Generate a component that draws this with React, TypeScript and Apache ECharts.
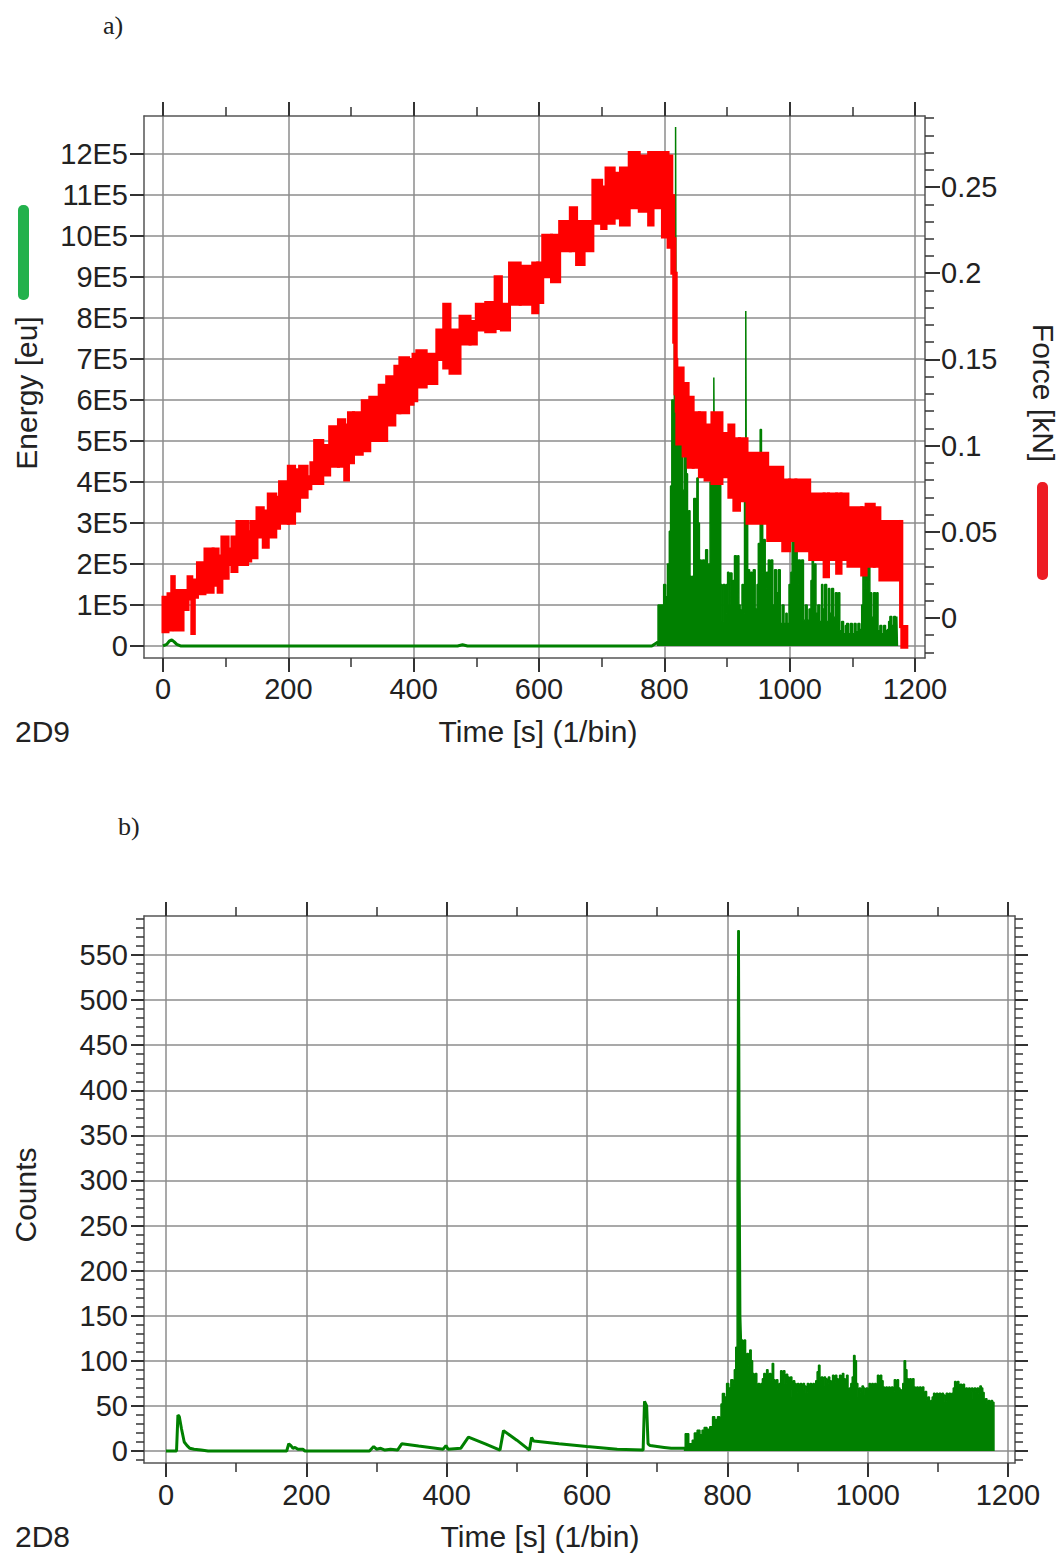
import React, { useEffect, useRef } from 'react';
import * as echarts from 'echarts';

const FONT = '"Liberation Sans", Arial, Helvetica, sans-serif';
const SERIF = '"Liberation Serif", "Times New Roman", serif';

// ---- tick values ----
const timeMajor = [0, 200, 400, 600, 800, 1000, 1200];
const timeMinor = [100, 300, 500, 700, 900, 1100];
const energyTicks = [0, 1, 2, 3, 4, 5, 6, 7, 8, 9, 10, 11, 12]; // in units of 1E5 eu
const forceMajor = [0, 0.05, 0.1, 0.15, 0.2, 0.25];
const forceMinor = [-0.02, -0.01, 0.01, 0.02, 0.03, 0.04, 0.06, 0.07, 0.08, 0.09, 0.11, 0.12, 0.13, 0.14, 0.16, 0.17, 0.18, 0.19, 0.21, 0.22, 0.23, 0.24, 0.26, 0.27, 0.28, 0.29];
const countMajor = [0, 50, 100, 150, 200, 250, 300, 350, 400, 450, 500, 550];
const countMinor = [-10, 10, 20, 30, 40, 60, 70, 80, 90, 110, 120, 130, 140, 160, 170, 180, 190, 210, 220, 230, 240, 260, 270, 280, 290, 310, 320, 330, 340, 360, 370, 380, 390, 410, 420, 430, 440, 460, 470, 480, 490, 510, 520, 530, 540, 560, 570, 580, 590];

// ---- data: chart a) ----
// energy (units of 1E5 eu) – quiet part
const energyQuiet = [[0, 0], [6, 0.04], [10, 0.12], [14, 0.15], [18, 0.1], [22, 0.04], [28, 0], [470, 0], [478, 0.03], [486, 0], [780, 0], [790, 0.1]];
// energy (units of 1E5 eu) – burst part
const energyBurst = [[788, 0.1], [790, 1.0], [797, 1.0], [799, 1.5], [802, 1.2], [805, 2.0], [808, 2.8], [810, 3.9], [812, 6.0], [814, 5.0], [816, 9.0], [818, 12.66], [819, 5.0], [821, 4.96], [824, 4.2], [826, 4.9], [829, 3.8], [832, 4.96], [835, 4.2], [837, 2.6], [839, 3.3], [841, 1.7], [843, 1.1], [845, 1.7], [847, 3.6], [850, 2.5], [852, 4.1], [854, 3.0], [856, 2.1], [859, 1.4], [861, 2.1], [864, 1.5], [866, 2.35], [869, 1.2], [871, 2.0], [873, 4.0], [875, 3.0], [877, 5.5], [879, 6.55], [880, 4.0], [882, 3.0], [884, 4.0], [886, 2.5], [888, 4.0], [890, 1.5], [892, 0.6], [894, 1.5], [897, 0.8], [899, 1.5], [901, 1.8], [903, 1.0], [905, 1.78], [908, 0.9], [910, 1.6], [912, 2.2], [915, 1.3], [917, 2.2], [919, 1.0], [921, 0.88], [924, 1.5], [926, 0.8], [928, 4.0], [930, 8.17], [931, 3.0], [933, 1.86], [936, 1.0], [938, 1.8], [940, 1.2], [942, 1.86], [945, 0.9], [948, 1.5], [950, 2.5], [953, 5.28], [955, 3.0], [957, 1.8], [959, 2.6], [961, 1.4], [963, 1.8], [966, 2.1], [968, 0.9], [970, 2.1], [973, 1.0], [976, 1.86], [979, 1.3], [982, 1.86], [985, 0.55], [988, 1.0], [991, 0.55], [994, 0.8], [996, 0.55], [999, 1.5], [1002, 1.8], [1004, 2.6], [1007, 2.0], [1009, 2.6], [1012, 1.5], [1014, 2.1], [1017, 1.3], [1019, 2.1], [1022, 0.63], [1025, 1.0], [1028, 0.63], [1031, 0.9], [1034, 1.6], [1036, 2.25], [1038, 1.4], [1040, 2.0], [1042, 0.8], [1045, 1.0], [1048, 0.6], [1051, 1.5], [1053, 0.9], [1056, 1.5], [1059, 0.6], [1062, 1.4], [1064, 0.8], [1067, 1.4], [1070, 0.7], [1073, 1.3], [1076, 0.6], [1078, 1.3], [1080, 0.37], [1083, 0.6], [1086, 0.3], [1089, 0.5], [1091, 0.55], [1094, 0.3], [1097, 0.55], [1100, 0.3], [1103, 0.55], [1106, 0.35], [1109, 0.55], [1112, 0.4], [1115, 1.0], [1117, 2.0], [1120, 1.4], [1122, 2.4], [1124, 1.6], [1126, 2.0], [1128, 1.3], [1131, 0.7], [1134, 1.3], [1137, 0.8], [1139, 1.3], [1141, 0.37], [1144, 0.5], [1147, 0.3], [1150, 0.5], [1153, 0.37], [1156, 0.4], [1158, 0.6], [1160, 0.72], [1163, 0.5], [1166, 0.72], [1169, 0.6], [1171, 0.72], [1172, 0]];

// force band [bin start time (s), low (kN), high (kN)]; the last bin ends at forceEnd
const forceBand = [
  [0, -0.008, 0.012], [8, -0.007, 0.014], [14, -0.006, 0.024], [18, -0.007, 0.016], [32, 0.005, 0.016],
  [40, 0.011, 0.024], [46, -0.009, 0.016], [50, 0.012, 0.022], [55, 0.014, 0.032], [67, 0.015, 0.04],
  [80, 0.019, 0.04], [88, 0.015, 0.036], [94, 0.023, 0.047], [104, 0.031, 0.04], [110, 0.027, 0.047],
  [118, 0.031, 0.056], [135, 0.033, 0.05], [140, 0.035, 0.056], [150, 0.047, 0.064], [160, 0.041, 0.062],
  [168, 0.047, 0.072], [180, 0.052, 0.07], [186, 0.055, 0.079], [200, 0.055, 0.088], [210, 0.062, 0.086],
  [218, 0.07, 0.088], [230, 0.075, 0.082], [236, 0.078, 0.09], [242, 0.078, 0.103], [255, 0.083, 0.1],
  [266, 0.088, 0.111], [280, 0.088, 0.115], [290, 0.08, 0.112], [296, 0.09, 0.119], [304, 0.095, 0.119],
  [318, 0.097, 0.126], [330, 0.103, 0.128], [345, 0.103, 0.135], [357, 0.112, 0.14], [370, 0.119, 0.146],
  [378, 0.119, 0.151], [392, 0.124, 0.15], [399, 0.126, 0.153], [405, 0.134, 0.155], [420, 0.136, 0.153],
  [437, 0.15, 0.167], [448, 0.145, 0.182], [458, 0.142, 0.167], [474, 0.159, 0.175], [490, 0.159, 0.172],
  [500, 0.167, 0.182], [515, 0.166, 0.183], [530, 0.168, 0.198], [540, 0.167, 0.182], [553, 0.182, 0.206],
  [570, 0.182, 0.204], [590, 0.177, 0.206], [598, 0.183, 0.206], [606, 0.198, 0.222], [620, 0.195, 0.222],
  [633, 0.213, 0.23], [650, 0.213, 0.238], [660, 0.205, 0.23], [672, 0.213, 0.23], [686, 0.229, 0.254],
  [700, 0.226, 0.25], [707, 0.229, 0.261], [720, 0.232, 0.258], [730, 0.228, 0.261], [744, 0.238, 0.27],
  [760, 0.236, 0.268], [775, 0.228, 0.27], [782, 0.238, 0.27], [797, 0.221, 0.27], [806, 0.215, 0.268],
  [812, 0.2, 0.245], [815, 0.16, 0.22], [817, 0.13, 0.2], [819, 0.12, 0.15], [820, 0.101, 0.145],
  [830, 0.094, 0.136], [838, 0.0875, 0.128], [846, 0.0875, 0.119], [856, 0.082, 0.119], [865, 0.08, 0.112],
  [876, 0.078, 0.119], [892, 0.082, 0.107], [903, 0.07, 0.112], [911, 0.0625, 0.104], [920, 0.068, 0.104],
  [932, 0.055, 0.0955], [965, 0.045, 0.0875], [989, 0.039, 0.08], [1000, 0.045, 0.08], [1010, 0.039, 0.08],
  [1032, 0.034, 0.072], [1055, 0.024, 0.072], [1062, 0.034, 0.072], [1075, 0.026, 0.072], [1082, 0.034, 0.072],
  [1093, 0.03, 0.064], [1115, 0.025, 0.064], [1122, 0.03, 0.066], [1135, 0.03, 0.064], [1144, 0.022, 0.056],
  [1177, -0.005, 0.056], [1179, -0.017, -0.005],
];
const forceEnd = 1187;

// ---- data: chart b) counts ----
const countsQuiet = [[0, 0], [15, 0], [17, 40], [19, 38], [22, 25], [26, 10], [30, 6], [34, 3], [40, 2], [50, 1], [60, 0], [172, 0], [175, 8], [178, 6], [181, 3], [184, 4], [188, 2], [195, 2], [198, 0], [290, 0], [296, 5], [300, 2], [306, 3], [312, 1], [320, 2], [330, 1], [336, 8], [360, 5.5], [395, 2], [399, 6], [402, 2], [420, 3], [431, 15.5], [455, 8], [476, 1], [481, 22.6], [500, 12], [518, 1], [521, 15], [524, 11], [560, 8], [600, 5], [643, 2], [680, 1], [682, 55], [685, 50], [687, 8], [690, 6], [700, 5], [710, 4], [720, 3], [740, 3]];
const countsBurst = [[738, 3], [740, 19], [743, 19], [745, 8], [748, 8], [750, 12], [753, 20], [757, 23], [761, 18], [764, 23], [767, 26], [771, 24], [775, 27], [779, 38], [782, 35], [786, 38], [789, 30], [791, 52], [793, 63.8], [796, 60], [799, 75], [802, 70], [805, 79], [808, 75], [810, 90], [812, 115], [814, 300], [815, 577], [817, 560], [818, 300], [819, 150], [820, 123], [822, 110], [824, 123], [826, 100], [828, 108], [830, 95], [832, 112], [834, 100], [836, 86], [838, 78], [840, 86], [842, 70], [844, 75], [846, 68], [848, 75], [850, 80], [852, 86], [854, 78], [856, 90], [858, 80], [860, 86], [862, 78], [864, 97], [866, 79], [868, 70], [870, 79], [872, 68], [874, 75], [876, 89], [878, 82], [880, 89], [882, 75], [884, 85], [886, 82], [888, 68], [890, 82], [892, 60], [894, 78], [896, 75], [898, 65], [900, 75], [902, 72], [904, 75], [906, 68], [908, 75], [910, 72], [912, 65], [914, 75], [916, 70], [918, 75], [920, 68], [922, 75], [924, 70], [926, 78], [928, 88], [930, 95], [932, 78], [934, 82], [936, 72], [938, 82], [940, 80], [942, 75], [944, 82], [946, 78], [948, 70], [950, 84], [952, 76], [954, 84], [956, 80], [958, 72], [960, 84], [962, 78], [964, 86], [966, 80], [968, 75], [970, 84], [972, 56], [974, 70], [976, 75], [978, 82], [980, 106], [982, 100], [984, 75], [986, 60], [988, 70], [990, 65], [992, 72], [994, 70], [996, 62], [998, 70], [1000, 68], [1002, 75], [1004, 72], [1006, 75], [1008, 70], [1010, 75], [1012, 68], [1014, 84], [1016, 80], [1018, 84], [1020, 78], [1022, 71], [1024, 65], [1026, 71], [1028, 68], [1030, 71], [1032, 62], [1034, 71], [1036, 66], [1038, 79], [1040, 72], [1042, 79], [1044, 70], [1046, 68], [1048, 62], [1050, 75], [1052, 100], [1054, 90], [1056, 80], [1058, 72], [1060, 80], [1062, 75], [1064, 80], [1066, 71], [1068, 65], [1070, 71], [1072, 60], [1074, 71], [1076, 66], [1078, 71], [1080, 62], [1082, 66], [1084, 56], [1086, 60], [1088, 52], [1090, 56], [1092, 60], [1094, 64], [1096, 58], [1098, 64], [1100, 60], [1102, 64], [1104, 58], [1106, 64], [1108, 62], [1110, 55], [1112, 64], [1114, 60], [1116, 64], [1118, 58], [1120, 64], [1122, 70], [1124, 77], [1126, 74], [1128, 77], [1130, 72], [1132, 74], [1134, 70], [1136, 74], [1138, 68], [1140, 70], [1142, 65], [1144, 70], [1146, 66], [1148, 70], [1150, 58], [1152, 70], [1154, 66], [1156, 70], [1158, 64], [1160, 72], [1162, 70], [1164, 65], [1166, 56], [1168, 58], [1170, 52], [1172, 56], [1174, 50], [1176, 56], [1178, 54], [1180, 0]];

// ---- styling ----
const AXIS_C = '#555';
const TICK_C = '#333';
const GRID_C = '#8c8c8c';
const TEXT_C = '#222';
const GREEN = '#008000';
const RED = '#ff0000';
const LABEL_SIZE = 29;

function tickAxis(kind: 'x' | 'y', gridIndex: number, position: string, min: number, max: number, ticks: number[], len: number, opts: any = {}) {
  return {
    type: 'value',
    gridIndex,
    position,
    min,
    max,
    axisLine: { show: opts.line !== false, onZero: false, lineStyle: { color: AXIS_C, width: 1.5 } },
    axisTick: { show: true, customValues: ticks, length: len, lineStyle: { color: TICK_C, width: opts.tickWidth || 1.5 } },
    axisLabel: opts.labels
      ? {
          show: true, customValues: ticks, margin: opts.margin, fontSize: LABEL_SIZE, color: TEXT_C, fontFamily: FONT,
          formatter: opts.formatter || ((v: number) => String(v)),
        }
      : { show: false },
    splitLine: opts.split ? { show: true, lineStyle: { color: GRID_C, width: 1.5 } } : { show: false },
  };
}

function textEl(text: string, x: number, y: number, font: string, rotation = 0, align = 'center') {
  return {
    type: 'text',
    x,
    y,
    rotation,
    style: { text, font, fill: TEXT_C, textAlign: align, textVerticalAlign: 'middle', align, verticalAlign: 'middle' },
    z: 10,
  };
}

export default function App() {
  const ref = useRef<HTMLDivElement>(null);
  useEffect(() => {
    document.body.style.margin = '0';
    const chart = echarts.init(ref.current as HTMLDivElement, null, { renderer: 'svg' });

    const aX = [-30.3, 1216];
    const aE = [-0.293, 12.927];
    const aF = [-0.0232, 0.2912];
    const bX = [-31.35, 1210];
    const bC = [-13.3, 593.3];

    const forceData = forceBand.map((r, i) => [r[0], i + 1 < forceBand.length ? forceBand[i + 1][0] : forceEnd, r[1], r[2]]);

    const option: any = {
      animation: false,
      backgroundColor: '#ffffff',
      grid: [
        { left: 144, top: 116, width: 781, height: 542 },
        { left: 144, top: 916, width: 871, height: 547 },
      ],
      xAxis: [
        tickAxis('x', 0, 'bottom', aX[0], aX[1], timeMajor, 14, { labels: true, margin: 16, split: true, tickWidth: 2 }),
        tickAxis('x', 0, 'bottom', aX[0], aX[1], timeMinor, 9, { line: false }),
        tickAxis('x', 0, 'top', aX[0], aX[1], timeMajor, 14, { tickWidth: 2 }),
        tickAxis('x', 0, 'top', aX[0], aX[1], timeMinor, 9, { line: false }),
        tickAxis('x', 1, 'bottom', bX[0], bX[1], timeMajor, 14, { labels: true, margin: 17, split: true, tickWidth: 2 }),
        tickAxis('x', 1, 'bottom', bX[0], bX[1], timeMinor, 9, { line: false }),
        tickAxis('x', 1, 'top', bX[0], bX[1], timeMajor, 14, { tickWidth: 2 }),
        tickAxis('x', 1, 'top', bX[0], bX[1], timeMinor, 9, { line: false }),
      ],
      yAxis: [
        tickAxis('y', 0, 'left', aE[0], aE[1], energyTicks, 14, {
          labels: true, margin: 16, split: true, tickWidth: 2,
          formatter: (v: number) => (v === 0 ? '0' : Math.round(v) + 'E5'),
        }),
        tickAxis('y', 0, 'right', aF[0], aF[1], forceMajor, 15, {
          labels: true, margin: 16, tickWidth: 2,
          formatter: (v: number) => String(parseFloat(v.toFixed(3))),
        }),
        tickAxis('y', 0, 'right', aF[0], aF[1], forceMinor, 9, { line: false }),
        tickAxis('y', 1, 'left', bC[0], bC[1], countMajor, 13, { labels: true, margin: 16, split: true, tickWidth: 2 }),
        tickAxis('y', 1, 'left', bC[0], bC[1], countMinor, 8, { line: false }),
        tickAxis('y', 1, 'right', bC[0], bC[1], countMajor, 13, { tickWidth: 2 }),
        tickAxis('y', 1, 'right', bC[0], bC[1], countMinor, 8, { line: false }),
      ],
      series: [
        {
          type: 'line', name: 'Energy', xAxisIndex: 0, yAxisIndex: 0, data: energyQuiet,
          symbol: 'none', lineStyle: { color: GREEN, width: 3 }, z: 2,
        },
        {
          type: 'line', name: 'Energy burst', xAxisIndex: 0, yAxisIndex: 0, data: energyBurst, step: 'end',
          symbol: 'none', lineStyle: { color: GREEN, width: 1.5 }, areaStyle: { color: GREEN, opacity: 1 }, z: 2,
        },
        {
          type: 'custom', name: 'Force', xAxisIndex: 0, yAxisIndex: 1, data: forceData,
          encode: { x: [0, 1], y: [2, 3] }, z: 3,
          renderItem: (params: any, api: any) => {
            const p0 = api.coord([api.value(0), api.value(3)]);
            const p1 = api.coord([api.value(1), api.value(2)]);
            return {
              type: 'rect',
              shape: { x: p0[0], y: p0[1], width: p1[0] - p0[0], height: p1[1] - p0[1] },
              style: { fill: RED, stroke: RED, lineWidth: 3 },
            };
          },
        },
        {
          type: 'line', name: 'Counts', xAxisIndex: 4, yAxisIndex: 3, data: countsQuiet,
          symbol: 'none', lineStyle: { color: GREEN, width: 3 }, z: 2,
        },
        {
          type: 'line', name: 'Counts burst', xAxisIndex: 4, yAxisIndex: 3, data: countsBurst, step: 'end',
          symbol: 'none', lineStyle: { color: GREEN, width: 1.5 }, areaStyle: { color: GREEN, opacity: 1 }, z: 2,
        },
      ],
      graphic: [
        textEl('a)', 103, 25, `26px ${SERIF}`, 0, 'left'),
        textEl('b)', 118, 826, `26px ${SERIF}`, 0, 'left'),
        textEl('Energy [eu]', 26, 393, `30px ${FONT}`, Math.PI / 2),
        textEl('Force [kN]', 1043, 393, `30px ${FONT}`, -Math.PI / 2),
        textEl('Counts', 25, 1195, `30px ${FONT}`, Math.PI / 2),
        textEl('Time [s] (1/bin)', 538, 731, `30px ${FONT}`),
        textEl('Time [s] (1/bin)', 540, 1536, `30px ${FONT}`),
        textEl('2D9', 15, 731, `30px ${FONT}`, 0, 'left'),
        textEl('2D8', 15, 1536, `30px ${FONT}`, 0, 'left'),
        { type: 'rect', shape: { x: 18, y: 205, width: 11, height: 95, r: 5 }, style: { fill: '#22b14c' }, z: 10 },
        { type: 'rect', shape: { x: 1037, y: 482, width: 11, height: 98, r: 5 }, style: { fill: '#ed1c24' }, z: 10 },
      ],
    };
    chart.setOption(option);
    return () => chart.dispose();
  }, []);
  return <div ref={ref} style={{ width: 1063, height: 1553 }} />;
}
